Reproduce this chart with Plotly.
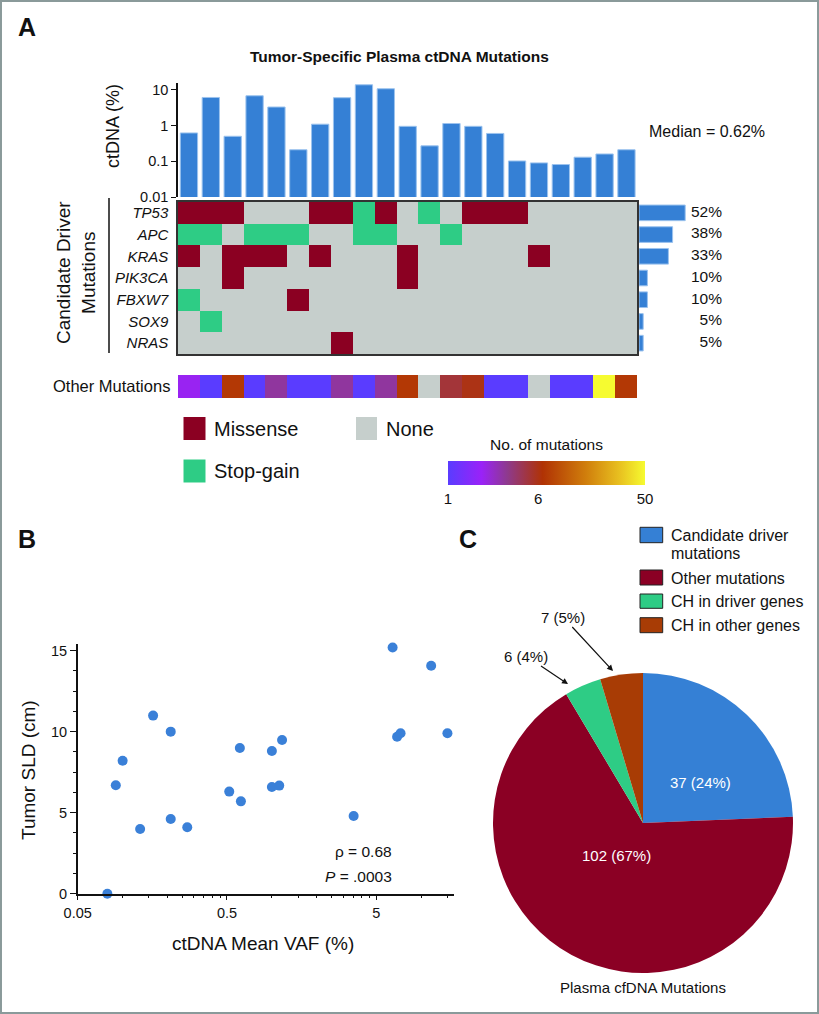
import numpy as np
import plotly.graph_objects as go

W, H = 819, 1014
def px(x): return x / W
def py(y): return 1 - y / H

FONT = "Liberation Sans, Arial, sans-serif"

# ---------------- Panel A data ----------------
patients = list(range(21))
ctdna_pct = [0.62, 6.1, 0.5, 6.8, 3.3, 0.21, 1.09, 6.0, 13.8, 10.7, 0.95,
             0.27, 1.14, 0.95, 0.6, 0.102, 0.09, 0.081, 0.13, 0.16, 0.21]
genes = ["TP53", "APC", "KRAS", "PIK3CA", "FBXW7", "SOX9", "NRAS"]
TP53   = ["M","M","M","-","-","-","M","M","S","M","-","S","-","M","M","M","-","-","-","-","-"]
APC    = ["S","S","-","S","S","S","-","-","S","S","-","-","S","-","-","-","-","-","-","-","-"]
KRAS   = ["M","-","M","M","M","-","M","-","-","-","M","-","-","-","-","-","M","-","-","-","-"]
PIK3CA = ["-","-","M","-","-","-","-","-","-","-","M","-","-","-","-","-","-","-","-","-","-"]
FBXW7  = ["S","-","-","-","-","M","-","-","-","-","-","-","-","-","-","-","-","-","-","-","-"]
SOX9   = ["-","S","-","-","-","-","-","-","-","-","-","-","-","-","-","-","-","-","-","-","-"]
NRAS   = ["-","-","-","-","-","-","-","M","-","-","-","-","-","-","-","-","-","-","-","-","-"]
other_mut_counts = [2, 1, 7, 1, 3, 1, 1, 3, 1, 3, 7, 0, 5, 6, 1, 1, 0, 1, 1, 50, 7]

# ---------------- Panel B data ----------------
vaf_mean = [6.44, 11.67, 0.16, 0.21, 6.9, 7.28, 15.0, 1.17, 0.61, 1.0, 0.1,
            0.09, 1.0, 1.12, 0.518, 0.62, 3.53, 0.131, 0.21, 0.271, 0.079]
sld_cm   = [15.19, 14.07, 10.99, 10.0, 9.69, 9.9, 9.9, 9.49, 8.99, 8.81, 8.21,
            6.69, 6.59, 6.67, 6.3, 5.7, 4.8, 3.99, 4.61, 4.1, 0.0]

# ---------------- Panel C data ----------------
pie_labels = ["Candidate driver mutations", "Other mutations", "CH in driver genes", "CH in other genes"]
pie_values = [37, 102, 6, 7]

# colours
BLUE = "#3580d5"
MISSENSE = "#8b0022"
STOP = "#2ecc85"
NONE = "#c6cfcc"
pie_colors = [BLUE, "#8b0024", STOP, "#a83c05"]

code = {"-": 0, "M": 1, "S": 2}
rows = [TP53, APC, KRAS, PIK3CA, FBXW7, SOX9, NRAS]
zmat = [[code[c] for c in r] for r in rows]
counts = [sum(1 for c in r if c != "-") for r in rows]
n_pat = len(patients)

fig = go.Figure()

fig.add_trace(go.Bar(x=patients, y=ctdna_pct, width=0.79,
                     marker=dict(color=BLUE, line=dict(color="#9cc3ee", width=1)),
                     xaxis="x", yaxis="y", showlegend=False))

fig.add_trace(go.Heatmap(x=patients, y=list(range(len(genes))), z=zmat, zmin=0, zmax=2,
                         colorscale=[[0, NONE], [0.333, NONE], [0.333, MISSENSE], [0.667, MISSENSE],
                                     [0.667, STOP], [1, STOP]],
                         showscale=False, xaxis="x2", yaxis="y2", hoverinfo="skip"))

fig.add_trace(go.Bar(x=counts, y=list(range(len(genes))), orientation="h", width=0.72,
                     marker=dict(color=BLUE, line=dict(color="#9cc3ee", width=1)),
                     xaxis="x3", yaxis="y3", showlegend=False))
XMAX3 = (722 - 639) / 4.2
fig.add_trace(go.Scatter(x=[XMAX3] * len(genes), y=list(range(len(genes))), mode="text",
                         text=[f"{round(100 * c / n_pat)}%" for c in counts],
                         textposition="middle left", textfont=dict(size=15.5, color="#111"),
                         xaxis="x3", yaxis="y3", showlegend=False, cliponaxis=False))

fig.add_trace(go.Heatmap(x=patients, y=[0], z=[[1] * n_pat], colorscale=[[0, NONE], [1, NONE]],
                         showscale=False, xaxis="x4", yaxis="y4", hoverinfo="skip"))
zlog = [np.log10(c) if c > 0 else np.nan for c in other_mut_counts]
fig.add_trace(go.Heatmap(
    x=patients, y=[0], z=[zlog], zmin=0, zmax=np.log10(50),
    colorscale=[[0.0, "#5a3cff"], [0.17, "#9a22f8"], [0.30, "#8e3a8e"], [0.48, "#b03204"],
                [0.70, "#d07e0c"], [0.87, "#e8c020"], [1.0, "#f6fb30"]],
    xaxis="x4", yaxis="y4", hoverinfo="skip",
    colorbar=dict(orientation="h", x=px(546.5), xanchor="center", y=py(443.5), yanchor="top",
                  len=197 / W, lenmode="fraction", thickness=24, thicknessmode="pixels",
                  tickvals=[0, np.log10(6), np.log10(50)], ticktext=["1", "6", "50"], ticks="",
                  tickfont=dict(size=15, color="#111"), outlinewidth=0, xpad=0, ypad=0,
                  title=dict(text="No. of mutations", side="top", font=dict(size=15.5, color="#111")))))

fig.add_trace(go.Scatter(x=vaf_mean, y=sld_cm, mode="markers",
                         marker=dict(color="#3a80d8", size=10), cliponaxis=False,
                         xaxis="x5", yaxis="y5", showlegend=False))

tot = sum(pie_values)
fig.add_trace(go.Pie(labels=pie_labels, values=pie_values, sort=False, direction="clockwise",
                     rotation=0, marker=dict(colors=pie_colors, line=dict(width=0)),
                     textinfo="none",
                     domain=dict(x=[px(493), px(793)], y=[py(973), py(673)]),
                     showlegend=False, hoverinfo="skip"))

XD = [px(178), px(637.4)]
ax_hidden = dict(visible=False, showgrid=False, zeroline=False)
layout = dict(
    width=W, height=H, margin=dict(l=0, r=0, t=0, b=0, pad=0, autoexpand=False),
    paper_bgcolor="white", plot_bgcolor="white",
    font=dict(family=FONT, color="#111"),
    xaxis=dict(domain=XD, range=[-0.5, n_pat - 0.5], **ax_hidden, anchor="y"),
    yaxis=dict(domain=[py(197), py(83)], type="log", range=[-2, 1.19], anchor="x",
               tickvals=[0.01, 0.1, 1, 10], ticktext=["0.01", "0.1", "1", "10"],
               showline=True, linecolor="#111", linewidth=1.5, ticks="outside", ticklen=5,
               tickcolor="#111", tickfont=dict(size=14.5), showgrid=False, zeroline=False),
    xaxis2=dict(domain=XD, range=[-0.5, n_pat - 0.5], anchor="y2", showticklabels=False, ticks="",
                showline=True, mirror=True, linecolor="#333", linewidth=1.5, showgrid=False, zeroline=False),
    yaxis2=dict(domain=[py(354), py(202)], range=[len(genes) - 0.5, -0.5], anchor="x2",
                tickvals=list(range(len(genes))), ticktext=[f"<i>{g}</i>" for g in genes],
                tickfont=dict(size=15), ticks="", ticklabelstandoff=5,
                showline=True, mirror=True, linecolor="#333", linewidth=1.5, showgrid=False, zeroline=False),
    xaxis3=dict(domain=[px(639), px(722)], range=[0, XMAX3], anchor="y3", **ax_hidden),
    yaxis3=dict(domain=[py(354), py(202)], range=[len(genes) - 0.5, -0.5], anchor="x3", **ax_hidden),
    xaxis4=dict(domain=XD, range=[-0.5, n_pat - 0.5], anchor="y4", **ax_hidden),
    yaxis4=dict(domain=[py(398), py(375)], range=[-0.5, 0.5], anchor="x4", **ax_hidden),
    xaxis5=dict(domain=[px(77.7), px(454)], type="log", range=[np.log10(0.05), np.log10(16.6)],
                anchor="y5", tickvals=[0.05, 0.5, 5], ticktext=["0.05", "0.5", "5"],
                showline=True, linecolor="#111", linewidth=1.5, ticks="outside", ticklen=5,
                tickcolor="#111", tickfont=dict(size=14.5), showgrid=False, zeroline=False,
                minor=dict(tickvals=[0.1, 0.15, 0.2, 0.25, 0.3, 0.35, 0.4, 0.45,
                                     1, 1.5, 2, 2.5, 3, 3.5, 4, 4.5, 10, 15],
                           ticks="outside", ticklen=3, tickcolor="#111", showgrid=False)),
    yaxis5=dict(domain=[py(893.7), py(644)], range=[0, 15.41], anchor="x5",
                tickvals=[0, 5, 10, 15], showline=True, linecolor="#111", linewidth=1.5,
                ticks="outside", ticklen=6, tickcolor="#111", tickfont=dict(size=14.5),
                showgrid=False, zeroline=False,
                minor=dict(dtick=1.25, ticks="outside", ticklen=3, tickcolor="#111", showgrid=False)),
)
fig.update_layout(**layout)

median = float(np.median(ctdna_pct))
shapes = [
    dict(type="rect", xref="paper", yref="paper", x0=0.0012, x1=0.9988, y0=0.001, y1=0.999,
         line=dict(color="#8a9a9a", width=2)),
    dict(type="line", xref="paper", yref="y", x0=px(180), x1=px(643), y0=np.log10(median),
         y1=np.log10(median), line=dict(color="#8c8c8c", width=2, dash="dash"), layer="above"),
    dict(type="line", xref="paper", yref="paper", x0=px(109), x1=px(109), y0=py(353), y1=py(198),
         line=dict(color="#111", width=1.5)),
    dict(type="rect", xref="paper", yref="paper", x0=px(183.5), x1=px(205.5), y0=py(440), y1=py(417),
         fillcolor=MISSENSE, line=dict(width=0)),
    dict(type="rect", xref="paper", yref="paper", x0=px(356), x1=px(377), y0=py(440), y1=py(417),
         fillcolor=NONE, line=dict(width=0)),
    dict(type="rect", xref="paper", yref="paper", x0=px(183.5), x1=px(205.5), y0=py(482.5), y1=py(459.5),
         fillcolor=STOP, line=dict(width=0)),
]
pie_key_y = [(527.3, 542.7), (570, 585), (594, 608.3), (617.7, 632.7)]
for (y0, y1), c in zip(pie_key_y, pie_colors):
    shapes.append(dict(type="rect", xref="paper", yref="paper", x0=px(640), x1=px(662.7),
                       y0=py(y1), y1=py(y0), fillcolor=c, line=dict(color="#222", width=1)))

def ann(text, x, y, size, xanchor="center", yanchor="middle", color="#111", **kw):
    d = dict(text=text, x=px(x), y=py(y), xref="paper", yref="paper", showarrow=False,
             xanchor=xanchor, yanchor=yanchor, font=dict(size=size, color=color, family=FONT))
    d.update(kw)
    return d

def pct_label(v):
    return f"{v} ({round(100 * v / tot)}%)"

annotations = [
    ann("<b>A</b>", 16, 27, 25, xanchor="left"),
    ann("<b>B</b>", 16, 539, 25, xanchor="left"),
    ann("<b>C</b>", 457, 539, 25, xanchor="left"),
    ann("<b>Tumor-Specific Plasma ctDNA Mutations</b>", 399, 57, 15.5),
    ann(f"Median = {median:.2f}%", 647, 131, 16, xanchor="left"),
    ann("ctDNA (%)", 113, 126, 18, textangle=-90),
    ann("Candidate Driver<br>Mutations", 76, 273, 19, textangle=-90),
    ann("Other Mutations", 172, 386, 16.5, xanchor="right"),
    ann("Missense", 212, 429, 20, xanchor="left"),
    ann("None", 384, 429, 20, xanchor="left"),
    ann("Stop-gain", 212, 471, 20, xanchor="left"),
    ann("ρ = 0.68", 394, 851, 15.5, xanchor="right"),
    ann("<i>P</i> = .0003", 394, 876, 15.5, xanchor="right"),
    ann("ctDNA Mean VAF (%)", 263, 943, 19),
    ann("Tumor SLD (cm)", 28, 770, 19, textangle=-90),
    ann("Plasma cfDNA Mutations", 643, 987, 15),
    ann("Candidate driver", 669, 535, 16, xanchor="left"),
    ann("mutations", 669, 553, 16, xanchor="left"),
    ann("Other mutations", 669, 578, 16, xanchor="left"),
    ann("CH in driver genes", 669, 601, 16, xanchor="left"),
    ann("CH in other genes", 669, 625, 16, xanchor="left"),
    ann(pct_label(pie_values[0]), 700, 782, 15, color="white"),
    ann(pct_label(pie_values[1]), 616, 855, 15, color="white"),
]
small = [(pie_values[2], 568, 684, -42, -28), (pie_values[3], 613, 671, -50, -54)]
for v, tx, ty, dx, dy in small:
    annotations.append(dict(text=pct_label(v), x=px(tx), y=py(ty),
                            xref="paper", yref="paper", showarrow=True, ax=dx, ay=dy,
                            arrowhead=2, arrowsize=1, arrowwidth=1.2, arrowcolor="#111",
                            font=dict(size=15, color="#111", family=FONT)))

fig.update_layout(shapes=shapes, annotations=annotations)
fig.write_html("out.html", config={"displayModeBar": False},
               post_script="document.body.style.margin='0';")
